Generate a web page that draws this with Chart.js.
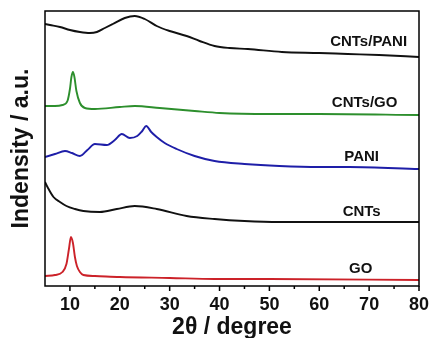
<!DOCTYPE html>
<html>
<head>
<meta charset="utf-8">
<script src="https://cdn.jsdelivr.net/npm/chart.js@4/dist/chart.umd.min.js"></script>
<style>
  html, body { margin: 0; padding: 0; background: #fff; }
  #wrap { width: 431px; height: 338px; }
</style>
</head>
<body>
<div id="wrap"><canvas id="c" width="431" height="338"></canvas></div>
<script>
// 2theta ticks
const xTicks = [10, 20, 30, 40, 50, 60, 70, 80];
const xMinor = [15, 25, 35, 45, 55, 65, 75];

// patterns (offset intensity, a.u.)
const cntsPaniX = [5, 6, 8, 10, 12, 14, 15.4, 17, 18.6, 21, 23, 25, 27.4, 30, 33.4, 36, 39, 42, 45.7, 52.5, 60, 65.7, 72, 80];
const cntsPaniY = [262, 261, 259, 256, 254, 253, 254, 258, 262, 268, 270, 267, 260, 255, 250, 245, 240, 238, 237, 234, 233, 232, 231, 229];

const cntsGoX = [5, 7, 8.5, 9.5, 10, 10.3, 10.6, 10.9, 11.3, 12, 13, 15, 20, 23, 28, 35, 40, 50, 60, 80];
const cntsGoY = [180, 180, 181, 185, 197, 209, 214, 209, 195, 183, 178, 177, 179, 180, 178, 175, 173, 172, 172, 171];

const paniX = [5, 7, 9, 10.4, 12, 13.5, 15, 17.4, 19, 20.4, 22, 23.5, 24.5, 25.3, 26.3, 27.4, 29, 31.4, 35, 39, 45, 52, 60, 66, 80];
const paniY = [129, 132, 135, 133, 130, 136, 142, 141, 146, 152, 148, 150, 155, 160, 154, 149, 143, 137, 130, 125, 122, 120, 119, 119, 117];

const cntsX = [5, 5.5, 6.7, 8, 9.3, 11, 12.7, 16, 19.4, 23, 27.4, 33.4, 39, 45, 52, 60, 80];
const cntsY = [104, 99, 89, 84, 80, 77, 75, 74, 77, 80, 77, 70, 67, 65, 64, 64, 64];

const goX = [5, 7, 8.5, 9.3, 9.8, 10.2, 10.6, 11, 11.4, 12, 12.7, 15, 20, 30, 39, 50, 80];
const goY = [10, 11, 14, 22, 37, 49, 43, 29, 20, 14, 11, 10, 9, 8, 7, 7, 6];

const seriesNames = ['CNTs/PANI', 'CNTs/GO', 'PANI', 'CNTs', 'GO'];

function pts(xs, ys) {
  return xs.map((x, i) => ({ x: x, y: ys[i] }));
}

// text labels next to each pattern, in data units
const curveLabels = [
  { text: 'CNTs/PANI', x: 69.9, y: 244 },
  { text: 'CNTs/GO', x: 69.1, y: 183 },
  { text: 'PANI', x: 68.5, y: 129 },
  { text: 'CNTs', x: 68.5, y: 74 },
  { text: 'GO', x: 68.3, y: 17 }
];

const framePlugin = {
  id: 'frame',
  afterDatasetsDraw(chart) {
    const ctx = chart.ctx;
    const a = chart.chartArea;
    const xs = chart.scales.x;
    const ys = chart.scales.y;
    ctx.save();
    ctx.strokeStyle = '#000';
    ctx.lineWidth = 1.5;
    ctx.strokeRect(a.left, a.top, a.right - a.left, a.bottom - a.top);
    // outward ticks on bottom axis
    ctx.beginPath();
    xTicks.forEach(v => {
      const px = xs.getPixelForValue(v);
      ctx.moveTo(px, a.bottom);
      ctx.lineTo(px, a.bottom + 5);
    });
    xMinor.forEach(v => {
      const px = xs.getPixelForValue(v);
      ctx.moveTo(px, a.bottom);
      ctx.lineTo(px, a.bottom + 3);
    });
    ctx.stroke();
    // curve names
    ctx.fillStyle = '#111';
    ctx.font = 'bold 15px "Liberation Sans", Arial, sans-serif';
    ctx.textAlign = 'center';
    ctx.textBaseline = 'middle';
    curveLabels.forEach(l => {
      ctx.fillText(l.text, xs.getPixelForValue(l.x), ys.getPixelForValue(l.y));
    });
    ctx.restore();
  }
};

new Chart(document.getElementById('c'), {
  type: 'line',
  data: {
    datasets: [
      { label: seriesNames[0], data: pts(cntsPaniX, cntsPaniY), borderColor: '#111111' },
      { label: seriesNames[1], data: pts(cntsGoX, cntsGoY), borderColor: '#2d8f2d' },
      { label: seriesNames[2], data: pts(paniX, paniY), borderColor: '#1e1ea8' },
      { label: seriesNames[3], data: pts(cntsX, cntsY), borderColor: '#111111' },
      { label: seriesNames[4], data: pts(goX, goY), borderColor: '#cc2229' }
    ]
  },
  options: {
    responsive: false,
    animation: false,
    layout: { padding: { top: 11, right: 12, left: 0, bottom: 0 } },
    elements: {
      point: { radius: 0 },
      line: { borderWidth: 1.9, cubicInterpolationMode: 'monotone', fill: false }
    },
    plugins: {
      legend: { display: false },
      tooltip: { enabled: false }
    },
    scales: {
      x: {
        type: 'linear',
        min: 5,
        max: 80,
        afterBuildTicks: scale => { scale.ticks = xTicks.map(v => ({ value: v })); },
        afterFit: scale => {
          scale.height = 52;
          scale.paddingLeft = 0;
          scale.paddingRight = 0;
        },
        grid: { display: false, drawTicks: false },
        border: { display: false },
        ticks: {
          color: '#111',
          padding: 8,
          font: { family: '"Liberation Sans", Arial, sans-serif', size: 18, weight: 'bold' }
        },
        title: {
          display: true,
          text: '2θ / degree',
          color: '#111',
          padding: { top: 0, bottom: -3 },
          font: { family: '"Liberation Sans", Arial, sans-serif', size: 23, weight: 'bold' }
        }
      },
      y: {
        min: 0,
        max: 275,
        afterFit: scale => { scale.width = 45; },
        grid: { display: false },
        border: { display: false },
        ticks: { display: false },
        title: {
          display: true,
          text: 'Indensity / a.u.',
          color: '#111',
          padding: 8,
          font: { family: '"Liberation Sans", Arial, sans-serif', size: 23, weight: 'bold' }
        }
      }
    }
  },
  plugins: [framePlugin]
});
</script>
</body>
</html>
